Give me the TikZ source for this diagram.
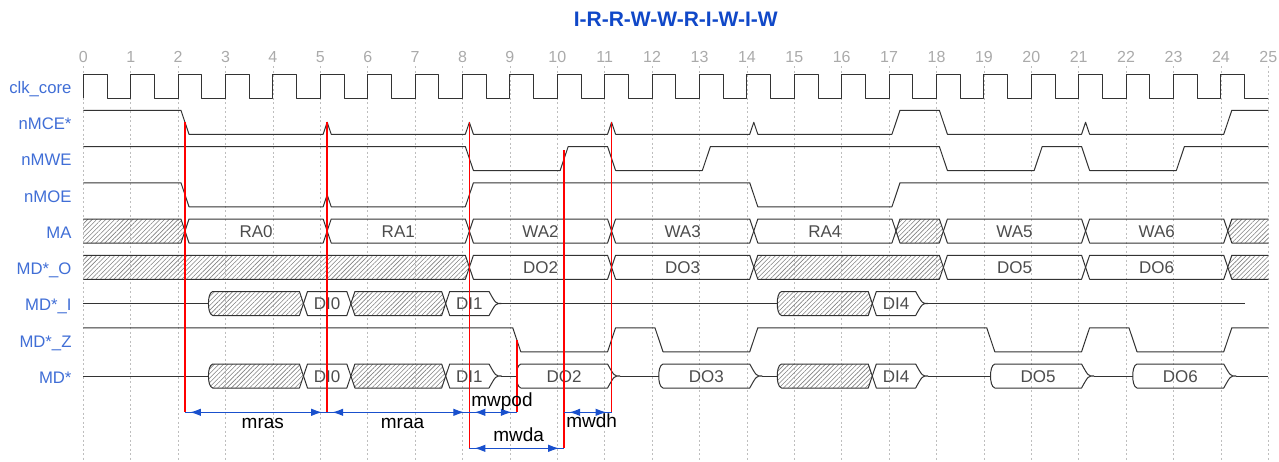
\documentclass[tikz,border=0pt]{standalone}
\usepackage{fontspec}
\setmainfont{Liberation Sans}
\usetikzlibrary{arrows.meta, patterns.meta, positioning}

\definecolor{lanename}{RGB}{64,110,214}
\definecolor{headblue}{RGB}{16,72,200}
\definecolor{waveline}{RGB}{51,51,51}
\definecolor{gridgray}{RGB}{190,190,190}
\definecolor{numgray}{RGB}{170,170,170}
\definecolor{gapblue}{RGB}{25,80,205}

\tikzset{
  sig/.style={draw=waveline, line width=1pt, line join=round},
  hatch/.style={pattern={Lines[angle=45,distance=3.2pt,line width=0.6pt]}, pattern color=black!50},
  dat/.style={text=black!70, font=\fontsize{17}{19}\selectfont, inner sep=0pt},
  signame/.style={anchor=base east, text=lanename, font=\fontsize{16.7}{19}\selectfont, inner sep=0pt},
  cyclenum/.style={anchor=base, text=numgray, font=\fontsize{16}{18}\selectfont, inner sep=0pt},
  headline/.style={anchor=base, text=headblue, font=\bfseries\fontsize{21}{24}\selectfont, inner sep=0pt},
  gridline/.style={draw=gridgray, line width=0.8pt, dash pattern=on 2pt off 2.5pt},
  probe/.style={draw=red, line width=1.5pt},
  gap/.style={draw=gapblue, line width=1.1pt,
    postaction={draw=gapblue, {Latex[length=11pt,width=7.5pt]}-{Latex[length=11pt,width=7.5pt]}, shorten <=5pt, shorten >=5pt}},
  gaplabel/.style={anchor=base, font=\fontsize{19}{21}\selectfont, inner sep=0pt}
}

% edges of a lane (top at 0, bottom at 24)
\newcommand\fall[1]{-- (#1+0.06,0) -- (#1+0.23,24)}
\newcommand\rise[1]{-- (#1+0.06,24) -- (#1+0.23,0)}
\newcommand\glitch[1]{-- (#1+0.06,24) -- (#1+0.145,12) -- (#1+0.23,24)}
% ends of a bus box
\newcommand\xl[1]{(#1+0.23,24) -- (#1+0.145,12) -- (#1+0.23,0)}
\newcommand\zl[1]{(#1+0.23,24) .. controls (#1+0.16,23) and (#1+0.14,17) .. (#1+0.14,12) .. controls (#1+0.14,7) and (#1+0.16,1) .. (#1+0.23,0)}
\newcommand\xr[1]{-- (#1+0.06,0) -- (#1+0.145,12) -- (#1+0.06,24)}
\newcommand\zr[1]{-- (#1+0.06,0) .. controls (#1+0.2,12) .. (#1+0.32,12) .. controls (#1+0.2,12) .. (#1+0.06,24)}
\newcommand\wbox[6]{\draw[sig] #1{#2} #3{#4} -- cycle;
  \node[dat] (#5) at ({(#2+#4)/2+0.145},12.6) {#6};}
\newcommand\hatchbox[4]{\draw[sig,hatch] #1{#2} #3{#4} -- cycle;}

\begin{document}
\begin{tikzpicture}[x=47.4pt, y=-1pt]
\useasboundingbox (-1.7574,0) rectangle (25.2257,461);

% grid and cycle numbers
\foreach \i in {0,...,25} {
  \draw[gridline] (\i,66) -- (\i,461);
  \node[cyclenum] (num-\i) at (\i,62.7) {\i};
}
\node[headline] (head) at (12.5,26.7) {I-R-R-W-W-R-I-W-I-W};

% lane names
\foreach \lbl [count=\r from 0] in {clk\_core, nMCE*, nMWE, nMOE, MA, MD*\_O, MD*\_I, MD*\_Z, MD*}
  \node[signame] (lane-\r) at (-0.245,93.3+36.25*\r) {\lbl};

% clk_core
\begin{scope}[shift={(0,74)}]
  \draw[sig] (0,24) \foreach \i in {0,...,24} { -- (\i,0) -- (\i+0.5,0) -- (\i+0.5,24) -- (\i+1,24) };
\end{scope}
% nMCE*
\begin{scope}[shift={(0,110.25)}]
  \draw[sig] (0,0) \fall{2} \glitch{5} \glitch{8} \glitch{11} \glitch{14} \rise{17} \fall{18} \glitch{21} \rise{24} -- (25,0);
\end{scope}
% nMWE
\begin{scope}[shift={(0,146.5)}]
  \draw[sig] (0,0) \fall{8} \rise{10} \fall{11} \rise{13} \fall{18} \rise{20} \fall{21} \rise{23} -- (25,0);
\end{scope}
% nMOE
\begin{scope}[shift={(0,182.75)}]
  \draw[sig] (0,0) \fall{2} \glitch{5} \rise{8} \fall{14} \rise{17} -- (25,0);
\end{scope}
% MA
\begin{scope}[shift={(0,219)}]
  \draw[sig,hatch] (0,0) \xr{2} -- (0,24);
  \wbox\xl{2}\xr{5}{ra0}{RA0}
  \wbox\xl{5}\xr{8}{ra1}{RA1}
  \wbox\xl{8}\xr{11}{wa2}{WA2}
  \wbox\xl{11}\xr{14}{wa3}{WA3}
  \wbox\xl{14}\xr{17}{ra4}{RA4}
  \hatchbox\xl{17}\xr{18}
  \wbox\xl{18}\xr{21}{wa5}{WA5}
  \wbox\xl{21}\xr{24}{wa6}{WA6}
  \draw[sig,hatch] (25,0) -- (24.23,0) -- (24.145,12) -- (24.23,24) -- (25,24);
\end{scope}
% MD*_O
\begin{scope}[shift={(0,255.25)}]
  \draw[sig,hatch] (0,0) \xr{8} -- (0,24);
  \wbox\xl{8}\xr{11}{o-do2}{DO2}
  \wbox\xl{11}\xr{14}{o-do3}{DO3}
  \hatchbox\xl{14}\xr{18}
  \wbox\xl{18}\xr{21}{o-do5}{DO5}
  \wbox\xl{21}\xr{24}{o-do6}{DO6}
  \draw[sig,hatch] (25,0) -- (24.23,0) -- (24.145,12) -- (24.23,24) -- (25,24);
\end{scope}
% MD*_I
\begin{scope}[shift={(0,291.5)}]
  \draw[sig] (0,12) -- (2.64,12);
  \hatchbox\zl{2.5}\xr{4.5}
  \wbox\xl{4.5}\xr{5.5}{i-di0}{DI0}
  \hatchbox\xl{5.5}\xr{7.5}
  \wbox\xl{7.5}\zr{8.5}{i-di1}{DI1}
  \draw[sig] (8.82,12) -- (14.64,12);
  \hatchbox\zl{14.5}\xr{16.5}
  \wbox\xl{16.5}\zr{17.5}{i-di4}{DI4}
  \draw[sig] (17.82,12) -- (24.5,12);
\end{scope}
% MD*_Z
\begin{scope}[shift={(0,327.75)}]
  \draw[sig] (0,0) \fall{9} \rise{11} \fall{12} \rise{14} \fall{19} \rise{21} \fall{22} \rise{24} -- (25,0);
\end{scope}
% MD*
\begin{scope}[shift={(0,364)}]
  \draw[sig] (0,12) -- (2.64,12);
  \hatchbox\zl{2.5}\xr{4.5}
  \wbox\xl{4.5}\xr{5.5}{d-di0}{DI0}
  \hatchbox\xl{5.5}\xr{7.5}
  \wbox\xl{7.5}\zr{8.5}{d-di1}{DI1}
  \draw[sig] (8.82,12) -- (9.14,12);
  \wbox\zl{9}\zr{11}{d-do2}{DO2}
  \draw[sig] (11.32,12) -- (12.14,12);
  \wbox\zl{12}\zr{14}{d-do3}{DO3}
  \draw[sig] (14.32,12) -- (14.64,12);
  \hatchbox\zl{14.5}\xr{16.5}
  \wbox\xl{16.5}\zr{17.5}{d-di4}{DI4}
  \draw[sig] (17.82,12) -- (19.14,12);
  \wbox\zl{19}\zr{21}{d-do5}{DO5}
  \draw[sig] (21.32,12) -- (22.14,12);
  \wbox\zl{22}\zr{24}{d-do6}{DO6}
  \draw[sig] (24.32,12) -- (25,12);
\end{scope}

% timing probes
\coordinate (rd0) at (2.145,122.25);
\coordinate (rd1) at (5.145,122.25);
\coordinate (wr2) at (8.145,122.25);
\coordinate (weup) at (10.145,150);
\coordinate (wr3) at (11.145,122.25);
\coordinate (zdn) at (9.145,339.75);
\coordinate (lane-a) at (0,412.3);
\coordinate (lane-b) at (0,448.3);

\draw[probe] (rd0) -- (rd0 |- lane-a);
\draw[probe] (rd1) -- (rd1 |- lane-a);
\draw[probe] (wr2) -- (wr2 |- lane-b);
\draw[probe] (weup) -- (weup |- lane-b);
\draw[probe] (wr3) -- (wr3 |- lane-a);
\draw[probe] (zdn) -- (zdn |- lane-a);

\draw[gap] (rd0 |- lane-a) -- (rd1 |- lane-a);
\draw[gap] (rd1 |- lane-a) -- (wr2 |- lane-a);
\draw[gap] (wr2 |- lane-a) -- (zdn |- lane-a);
\draw[gap] (wr2 |- lane-b) -- (weup |- lane-b);
\draw[gap] (weup |- lane-a) -- (wr3 |- lane-a);

\node[gaplabel] (mras) at (3.787,428.3) {mras};
\node[gaplabel] (mraa) at (6.734,428.3) {mraa};
\node[gaplabel] (mwpod) at (8.833,406) {mwpod};
\node[gaplabel] (mwda) at (9.186,441.7) {mwda};
\node[gaplabel] (mwdh) at (10.726,427.7) {mwdh};
\end{tikzpicture}
\end{document}
